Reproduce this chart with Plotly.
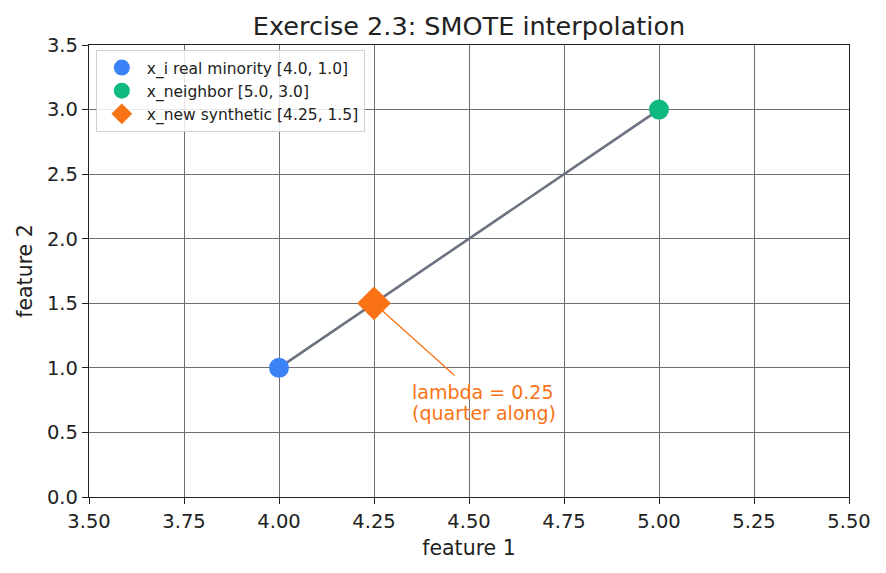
import plotly.graph_objects as go

x_i = [4.0, 1.0]
x_nb = [5.0, 3.0]
x_new = [4.25, 1.5]
seg_x = [x_i[0], x_nb[0]]
seg_y = [x_i[1], x_nb[1]]
names = ["x_i real minority [4.0, 1.0]", "x_neighbor [5.0, 3.0]", "x_new synthetic [4.25, 1.5]"]
ann_tail = [4.466, 0.93]
ann_lines = ["lambda = 0.25", "(quarter along)"]
ann_x = 4.35
ann_y = [0.814, 0.651]
xticks = [3.5, 3.75, 4.0, 4.25, 4.5, 4.75, 5.0, 5.25, 5.5]
yticks = [0.0, 0.5, 1.0, 1.5, 2.0, 2.5, 3.0, 3.5]

FONT = "DejaVu Sans"
TXT = "#222"
fig = go.Figure()
fig.add_trace(go.Scatter(x=seg_x, y=seg_y, mode="lines", line=dict(color="#6b7280", width=2.6),
                         showlegend=False, hoverinfo="skip"))
fig.add_trace(go.Scatter(x=[x_i[0]], y=[x_i[1]], mode="markers", name=names[0],
                         marker=dict(color="#3b82f6", size=20, symbol="circle")))
fig.add_trace(go.Scatter(x=[x_nb[0]], y=[x_nb[1]], mode="markers", name=names[1],
                         marker=dict(color="#10b981", size=20, symbol="circle")))
fig.add_trace(go.Scatter(x=[x_new[0]], y=[x_new[1]], mode="markers", name=names[2],
                         marker=dict(color="#f97316", size=26, symbol="diamond")))

fig.add_annotation(x=x_new[0], y=x_new[1], ax=ann_tail[0], ay=ann_tail[1], axref="x", ayref="y",
                   xref="x", yref="y", text="", showarrow=True, arrowhead=0, arrowwidth=1.3,
                   arrowcolor="#f97316")
for line, yy in zip(ann_lines, ann_y):
    fig.add_annotation(x=ann_x, y=yy, xref="x", yref="y", text=line, showarrow=False,
                       xanchor="left", yanchor="middle", xshift=-2,
                       font=dict(family=FONT, size=19, color="#f97316"))

axis_common = dict(showgrid=True, gridcolor="#6e6e6e", gridwidth=0.8, showline=True, linecolor=TXT,
                   linewidth=1.4, mirror=True, ticks="outside", ticklen=6, tickcolor=TXT, tickwidth=1.2,
                   zeroline=False, tickfont=dict(family=FONT, size=19.5, color=TXT))
fig.update_xaxes(range=[3.5, 5.5], tickvals=xticks, ticktext=[f"{v:.2f}" for v in xticks],
                 title=dict(text="feature 1", font=dict(family=FONT, size=20.5, color=TXT), standoff=9),
                 **axis_common)
fig.update_yaxes(range=[0, 3.5], tickvals=yticks, ticktext=[f"{v:.1f}" for v in yticks],
                 title=dict(text="feature 2", font=dict(family=FONT, size=20.5, color=TXT), standoff=8),
                 **axis_common)
fig.update_layout(
    width=886, height=573, margin=dict(l=89, r=37, t=45, b=76),
    paper_bgcolor="white", plot_bgcolor="white",
    title=dict(text="Exercise 2.3: SMOTE interpolation", x=(89 + 849) / 2 / 886, xanchor="center",
               y=1 - 26 / 573, yanchor="middle",
               font=dict(family=FONT, size=25.5, color=TXT)),
    legend=dict(x=0.009, y=0.989, xanchor="left", yanchor="top", bgcolor="rgba(255,255,255,0.85)",
                bordercolor="#d0d0d0", borderwidth=1, font=dict(family=FONT, size=15.5, color=TXT),
                tracegroupgap=0, itemsizing="trace", itemwidth=40),
    font=dict(family=FONT),
)
fig.write_html("out.html")
